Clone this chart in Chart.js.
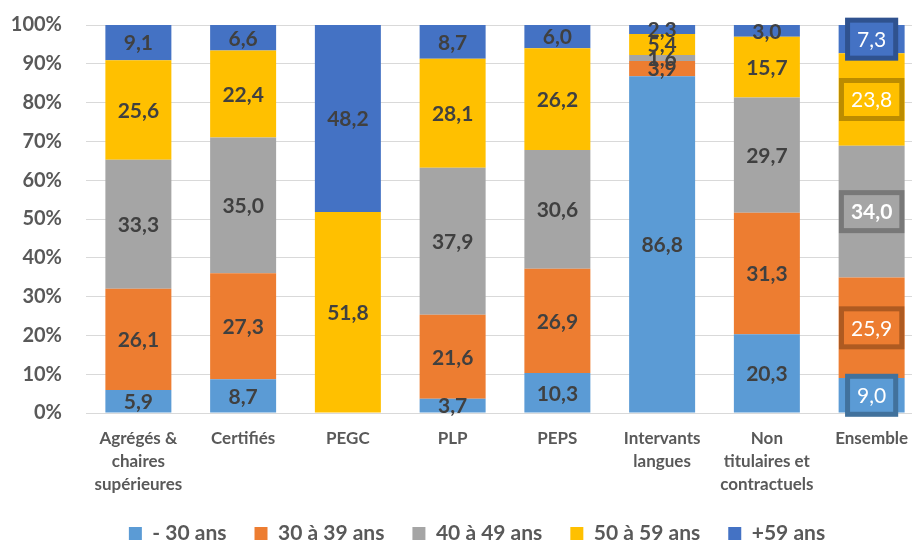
<!DOCTYPE html>
<html>
<head>
<meta charset="utf-8">
<script src="https://cdn.jsdelivr.net/npm/chart.js@4.4.0/dist/chart.umd.min.js"></script>
<style>
  html, body { margin: 0; padding: 0; background: #fff; overflow: hidden; }
  #wrap { width: 924px; height: 541px; }
</style>
</head>
<body>
<div id="wrap"><canvas id="ages" width="924" height="541"></canvas></div>
<script>
const categories = [
  ['Agrégés &', 'chaires', 'supérieures'],
  'Certifiés',
  'PEGC',
  'PLP',
  'PEPS',
  ['Intervants', 'langues'],
  ['Non', 'titulaires et', 'contractuels'],
  'Ensemble'
];
const seriesNames = ['- 30 ans', '30 à 39 ans', '40 à 49 ans', '50 à 59 ans', '+59 ans'];
const under30 = [5.9, 8.7, 0, 3.7, 10.3, 86.8, 20.3, 9.0];
const age30to39 = [26.1, 27.3, 0, 21.6, 26.9, 3.9, 31.3, 25.9];
const age40to49 = [33.3, 35.0, 0, 37.9, 30.6, 1.6, 29.7, 34.0];
const age50to59 = [25.6, 22.4, 51.8, 28.1, 26.2, 5.4, 15.7, 23.8];
const over59 = [9.1, 6.6, 48.2, 8.7, 6.0, 2.3, 3.0, 7.3];
const yTicks = [0, 10, 20, 30, 40, 50, 60, 70, 80, 90, 100];

const fills = ['#5B9BD5', '#ED7D31', '#A5A5A5', '#FFC000', '#4472C4'];
const edges = ['#41719C', '#AE5A21', '#787878', '#BC8C00', '#2F528F'];
const FONT = 'Lato, "Open Sans", sans-serif';
const boxedCategory = 7;

// segment values, written in the middle of each piece
const valueLabels = {
  id: 'valueLabels',
  afterDatasetsDraw(chart) {
    const ctx = chart.ctx;
    ctx.save();
    ctx.textAlign = 'center';
    ctx.textBaseline = 'middle';
    chart.data.datasets.forEach((ds, di) => {
      const meta = chart.getDatasetMeta(di);
      meta.data.forEach((bar, i) => {
        const v = ds.data[i];
        if (!v) return;
        const cy = (bar.y + bar.base) / 2;
        const txt = v.toFixed(1).replace('.', ',');
        if (i === boxedCategory) {
          ctx.font = (di === 2 ? 'bold ' : '') + '21px ' + FONT;
          const w = ctx.measureText(txt).width + 24;
          const h = 43;
          ctx.fillStyle = edges[di];
          ctx.fillRect(bar.x - w / 2, cy - h / 2, w, h);
          ctx.fillStyle = fills[di];
          ctx.fillRect(bar.x - w / 2 + 5, cy - h / 2 + 5, w - 10, h - 10);
          ctx.fillStyle = '#FFFFFF';
          ctx.fillText(txt, bar.x, cy + 1);
        } else {
          ctx.font = 'bold 21px ' + FONT;
          ctx.fillStyle = '#404040';
          ctx.fillText(txt, bar.x, cy + 1);
        }
      });
    });
    ctx.restore();
  }
};

// nudge the legend row to where the original sits
const legendShift = {
  id: 'legendShift',
  afterLayout(chart) {
    const lg = chart.legend;
    lg.left += 15;
    lg.right += 15;
    lg.top -= 2;
    lg.bottom -= 2;
  }
};

const seriesValues = [under30, age30to39, age40to49, age50to59, over59];

new Chart(document.getElementById('ages'), {
  type: 'bar',
  data: {
    labels: categories,
    datasets: seriesNames.map((name, k) => ({
      label: name,
      data: seriesValues[k],
      backgroundColor: fills[k],
      borderWidth: 0,
      barPercentage: 0.63,
      categoryPercentage: 1
    }))
  },
  options: {
    responsive: false,
    animation: false,
    layout: { padding: { left: 0, top: 25, right: 0, bottom: -15 } },
    plugins: {
      legend: {
        position: 'bottom',
        labels: {
          boxWidth: 13,
          boxHeight: 13,
          padding: 28,
          color: '#595959',
          font: { family: FONT, size: 21, weight: 'bold' }
        }
      },
      tooltip: { enabled: false }
    },
    scales: {
      x: {
        stacked: true,
        grid: { display: false, drawTicks: false },
        border: { display: false },
        ticks: {
          color: '#595959',
          padding: 14,
          maxRotation: 0,
          autoSkip: false,
          font: { family: FONT, size: 17, weight: 'bold', lineHeight: 1.353 }
        },
        afterFit(s) { s.height = 84; }
      },
      y: {
        stacked: true,
        min: 0,
        max: 100,
        afterBuildTicks(s) { s.ticks = yTicks.map(v => ({ value: v })); },
        grid: { color: '#D9D9D9', lineWidth: 1, drawTicks: false },
        border: { display: false },
        ticks: {
          color: '#595959',
          padding: 24,
          font: { family: FONT, size: 20, weight: 'bold' },
          callback: v => v + '%'
        },
        afterFit(s) {
          s.width = 86;
          s.paddingTop = 0;
          s.paddingBottom = 0;
        }
      }
    }
  },
  plugins: [valueLabels, legendShift]
});
</script>
</body>
</html>
